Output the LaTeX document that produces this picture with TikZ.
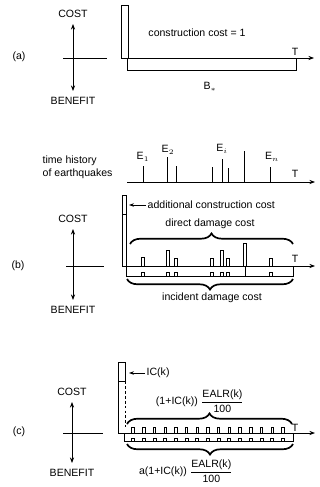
\documentclass[tikz,border=0pt]{standalone}
\usepackage{amsmath}
\usepackage{fontspec}
\setmainfont{Liberation Sans}
\usepackage{tikz}
\usetikzlibrary{arrows.meta, positioning, decorations.pathreplacing}
\tikzset{
  %% ---- text ----
  lbl/.style    = {inner sep=1pt, font=\fontsize{7.5}{9}\selectfont},
  %% ---- lines ----
  plain/.style  = {line width=0.6pt},
  barln/.style  = {line width=0.5pt},
  axis/.style   = {-{Stealth[length=4pt, width=3pt]}, line width=0.6pt},
  costaxis/.style = {{Stealth[length=4pt, width=3pt]}-{Stealth[length=4pt, width=3pt]}, line width=0.6pt},
  ptr/.style    = {-{Stealth[length=3.5pt, width=2.5pt]}, line width=0.6pt},
  curly/.style  = {decorate, decoration={brace, amplitude=#1}, line width=1.2pt},
  curly/.default = 7.5pt,
}

\begin{document}
\begin{tikzpicture}[x=0.025cm, y=-0.025cm]
\useasboundingbox (0,0) rectangle (320,487);

%% ---- (a) ----
\node[lbl] (panela) at (19,57) {(a)};
\coordinate (atop) at (73,24);
\coordinate (abot) at (73,91);
\node[lbl, above=3pt of atop] (costa)  {COST};
\node[lbl, below=3pt of abot] (benefa) {BENEFIT};
\draw[costaxis] (abot) -- (atop);
\draw[plain] (63,58) -- (107,58);
\draw[plain] (121,58) rectangle (128,5);
\draw[axis]  (121,58) -- (314,58);
\draw[plain] (127,58) rectangle (296,70);
\node[lbl] (consta) at (197,33) {construction cost = 1};
\node[lbl] (Ta)     at (295,52) {T};
\node[lbl] (bstar)  at (210,87) {B$_*$};

%% ---- (b) time history ----
\node[lbl, anchor=west, align=left] (history) at (41,167) {time history\\of earthquakes};
\draw[axis] (127,182) -- (315,182);
\foreach \x/\h in {143/166, 167/157, 176/166, 212/167, 222/159, 228/168, 244/151, 270/167}
  \draw[barln] (\x,182) -- (\x,\h);
\node[lbl] (eone)   at (143,157) {E$_1$};
\node[lbl] (etwo)   at (168,150) {E$_2$};
\node[lbl] (ei)     at (222,149) {E$_i$};
\node[lbl] (en)     at (272,157) {E$_n$};
\node[lbl] (Th)     at (295,174) {T};

%% ---- (b) costs ----
\node[lbl] (panelb) at (18,266) {(b)};
\coordinate (btop) at (73,229);
\coordinate (bbot) at (73,300);
\node[lbl, above=3pt of btop] (costb)  {COST};
\node[lbl, below=3pt of bbot] (benefb) {BENEFIT};
\draw[costaxis] (bbot) -- (btop);
\draw[plain] (66,266) -- (104,266);
\draw[plain] (122,266) -- (122,195) -- (126,195) -- (126,266);
\draw[plain] (122,214) -- (126,214);
\draw[axis]  (122,266) -- (315,266);
\node[lbl, anchor=west] (addcost) at (146,205) {additional construction cost};
\coordinate (addtip) at (129,205);
\draw[ptr] (addcost) -- (addtip);
\foreach \x/\h in {143/257, 168/250, 176/258, 212/258, 222/250, 228/258, 245/243, 271/258}
  \draw[barln] (\x-1.2,266) rectangle (\x+1.2,\h);
\draw[plain] (126,266) rectangle (293,276);
\draw[barln] (245,266) -- (245,276);
\foreach \x in {143,168,176,212,222,228,271}
  \draw[barln] (\x-1.5,276) -- (\x-1.5,272.5) -- (\x+1.5,272.5) -- (\x+1.5,276);
\draw[curly] (130,244) -- (293,244);
\node[lbl] (direct)   at (210,224) {direct damage cost};
\draw[curly] (293,279) -- (127,279);
\node[lbl] (incident) at (212,298) {incident damage cost};
\node[lbl] (Tb) at (295,259) {T};

%% ---- (c) ----
\node[lbl] (panelc) at (19,432) {(c)};
\coordinate (ctop) at (72,402);
\coordinate (cbot) at (72,463);
\node[lbl, above=3pt of ctop] (costc)  {COST};
\node[lbl, below=3pt of cbot] (benefc) {BENEFIT};
\draw[costaxis] (cbot) -- (ctop);
\draw[plain] (63,433) -- (103,433);
\draw[plain] (118,433) -- (118,362) -- (125,362) -- (125,381) -- (118,381);
\draw[plain, dash pattern=on 2pt off 1.5pt] (125,381) -- (125,427);
\draw[axis]  (118,433) -- (315,433);
\node[lbl, anchor=west] (ick) at (145,373) {IC(k)};
\coordinate (ictip) at (129,373);
\draw[ptr] (ick) -- (ictip);
\foreach \x in {133,143.7,...,284}
  \draw[barln] (\x-1.2,433) rectangle (\x+1.2,427);
\draw[plain] (124,433) rectangle (293,441);
\foreach \x in {133,143.7,...,284}
  \draw[barln] (\x-1.5,441) -- (\x-1.5,438) -- (\x+1.5,438) -- (\x+1.5,441);
\draw[curly] (127,424) -- (292,424);
\node[lbl] (upper) at (200,401) {(1+IC(k)) $\dfrac{\text{EALR(k)}}{\text{100}}$};
\draw[curly] (293,444) -- (127,444);
\node[lbl] (lower) at (186,471) {a(1+IC(k)) $\dfrac{\text{EALR(k)}}{\text{100}}$};
\node[lbl] (Tc) at (295,428) {T};
\end{tikzpicture}
\end{document}
